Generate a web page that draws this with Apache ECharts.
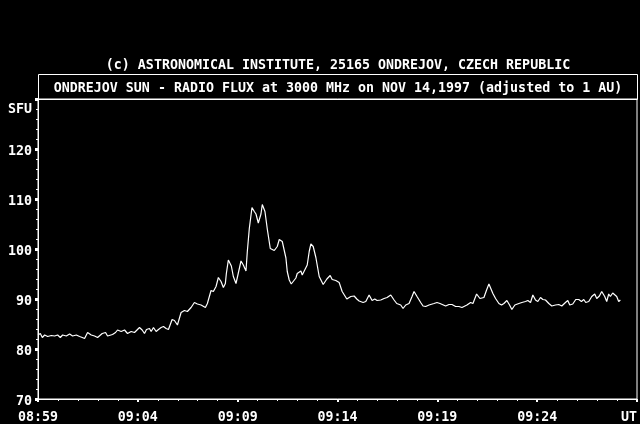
<!DOCTYPE html>
<html>
<head>
<meta charset="utf-8">
<script src="https://cdn.jsdelivr.net/npm/echarts@6/dist/echarts.min.js"></script>
<style>
html,body{margin:0;padding:0;background:#000;}
#c{width:640px;height:424px;}
</style>
</head>
<body>
<div id="c"></div>
<script>
// seconds since 08:59:00 UT
var seconds = [0,7,13,20,29,40,50,59,67,74,85,95,104,115,125,133,140,149,160,170,179,185,193,203,209,215,224,233,239,250,260,269,280,290,296,305,313,320,326,335,340,347,355,362,370,377,385,392,403,410,419,430,440,449,460,470,479,490,503,509,520,527,535,542,550,557,563,566,572,581,587,595,602,610,617,625,629,635,643,650,655,662,670,674,682,689,698,704,710,715,719,725,734,745,749,755,761,767,775,779,790,794,800,809,815,820,827,835,845,857,868,878,884,895,905,914,928,940,950,958,965,970,977,985,995,1004,1012,1019,1030,1040,1049,1060,1070,1078,1090,1097,1105,1115,1124,1130,1139,1150,1157,1165,1175,1190,1199,1208,1214,1225,1235,1244,1255,1265,1274,1280,1289,1300,1307,1318,1328,1334,1340,1348,1355,1361,1367,1375,1385,1393,1400,1409,1417,1424,1433,1445,1454,1465,1472,1480,1487,1495,1502,1510,1517,1525,1535,1544,1555,1565,1574,1585,1592,1598,1607,1616,1625,1633,1640,1646,1655,1664,1673,1679,1687,1694,1703,1709,1715,1720,1727,1733,1739,1745,1750];
// radio flux, SFU
var flux = [82.8,83.1,82.3,82.8,82.5,82.7,82.6,82.8,82.3,82.8,82.6,83.0,82.6,82.8,82.5,82.3,82.1,83.3,82.8,82.6,82.3,82.1,83.1,83.3,82.6,82.3,82.9,83.3,83.8,83.5,83.8,83.1,83.5,83.3,83.6,84.3,83.8,83.1,83.9,84.1,83.5,84.3,83.5,83.9,84.3,84.5,84.1,83.9,85.9,85.7,84.8,87.3,87.7,87.5,88.3,89.3,89.0,88.8,88.3,89.1,91.7,91.5,92.5,94.3,93.5,92.3,93.1,95.1,97.8,96.6,94.5,93.1,95.2,97.6,96.8,95.6,99.5,104.1,108.3,107.5,107.0,105.2,107.0,108.9,107.5,104.0,100.1,99.8,99.7,99.5,100.5,101.9,101.5,98.2,95.5,93.8,93.0,92.6,94.2,95.1,95.6,94.8,94.5,96.8,99.5,101.0,100.5,98.3,94.5,92.9,94.0,94.7,93.9,93.7,93.3,91.5,90.0,90.5,90.6,90.0,89.6,89.7,89.3,89.5,90.8,89.7,90.0,89.7,89.8,90.1,90.3,90.8,89.8,89.1,88.8,88.1,88.8,89.1,90.5,91.5,90.5,89.3,88.6,88.5,88.8,89.1,89.3,89.1,88.8,88.6,88.9,88.9,88.5,88.5,88.3,87.9,88.8,89.3,89.1,91.0,90.1,89.8,90.3,91.8,93.0,93.1,91.1,90.1,89.1,88.8,89.1,89.7,88.8,87.9,88.8,89.1,89.3,89.5,89.7,89.3,90.8,89.8,89.5,90.3,89.9,89.8,89.1,88.6,88.8,88.9,88.6,89.3,89.7,88.8,89.0,89.9,89.9,89.5,89.9,89.3,89.5,90.5,91.0,90.1,90.6,91.5,90.5,89.5,91.0,90.5,91.2,91.5,90.5,89.5,89.8];
var xTickLabels = ['08:59','09:04','09:09','09:14','09:19','09:24','UT'];
var yTickValues = [70,80,90,100,110,120];
var topText = '(c) ASTRONOMICAL INSTITUTE, 25165 ONDREJOV, CZECH REPUBLIC';
var titleText = 'ONDREJOV SUN - RADIO FLUX at 3000 MHz on NOV 14,1997 (adjusted to 1 AU)';
var yName = 'SFU';

var FONT = '"DejaVu Sans Mono", "Liberation Mono", monospace';
var FS = 13.3;
var data = seconds.map(function(s, i){ return [s, flux[i]]; });

var chart = echarts.init(document.getElementById('c'), null, {renderer:'canvas'});
chart.setOption({
  backgroundColor: '#000',
  animation: false,
  title: [
    {text: topText, left: 338, top: 59, textAlign: 'center', padding: 0,
     textStyle: {color:'#fff', fontFamily: FONT, fontSize: FS, fontWeight: 'bold'}},
    {text: titleText, left: 338, top: 82, textAlign: 'center', padding: 0,
     textStyle: {color:'#fff', fontFamily: FONT, fontSize: FS, fontWeight: 'bold'}}
  ],
  graphic: [
    {type:'rect', shape:{x:38.5, y:74.5, width:599, height:25}, style:{fill:null, stroke:'#fff', lineWidth:1}, silent:true}
  ],
  grid: {left: 38, right: 2, top: 99, bottom: 25, show: true, borderColor:'#fff', borderWidth:1, backgroundColor:'transparent'},
  xAxis: {
    type: 'value', min: 0, max: 1800, interval: 300,
    axisLine: {show:true, lineStyle:{color:'#fff', width:1}},
    axisTick: {show:true, length:3, lineStyle:{color:'#fff', width:2}},
    minorTick: {show:true, splitNumber:5, length:2, lineStyle:{color:'#fff', width:1}},
    splitLine: {show:false},
    axisLabel: {color:'#fff', fontFamily: FONT, fontSize: FS, fontWeight:'bold', margin: 12,
      alignMaxLabel: 'right',
      formatter: function(v){ return xTickLabels[Math.round(v/300)]; }}
  },
  yAxis: {
    type: 'value', min: 70, max: 130, interval: 10,
    name: yName, nameLocation: 'end', nameGap: -11,
    nameTextStyle: {color:'#fff', fontFamily: FONT, fontSize: FS, fontWeight:'bold', align:'right', verticalAlign:'middle', padding:[0,6,0,0]},
    axisLine: {show:true, lineStyle:{color:'#fff', width:1}},
    axisTick: {show:true, length:3, lineStyle:{color:'#fff', width:3}},
    minorTick: {show:true, splitNumber:5, length:2, lineStyle:{color:'#fff', width:1}},
    splitLine: {show:false},
    axisLabel: {color:'#fff', fontFamily: FONT, fontSize: FS, fontWeight:'bold', margin: 6,
      formatter: function(v){ return yTickValues.indexOf(v) >= 0 ? '{a|' + v + '}' : ''; },
      rich: {a: {color:'#fff', fontFamily: FONT, fontSize: FS, fontWeight:'bold', padding:[5,0,0,0]}}}
  },
  series: [{
    type: 'line', data: data, showSymbol: false, symbol: 'none',
    lineStyle: {color:'#fff', width:1.2}
  }]
});
</script>
</body>
</html>
